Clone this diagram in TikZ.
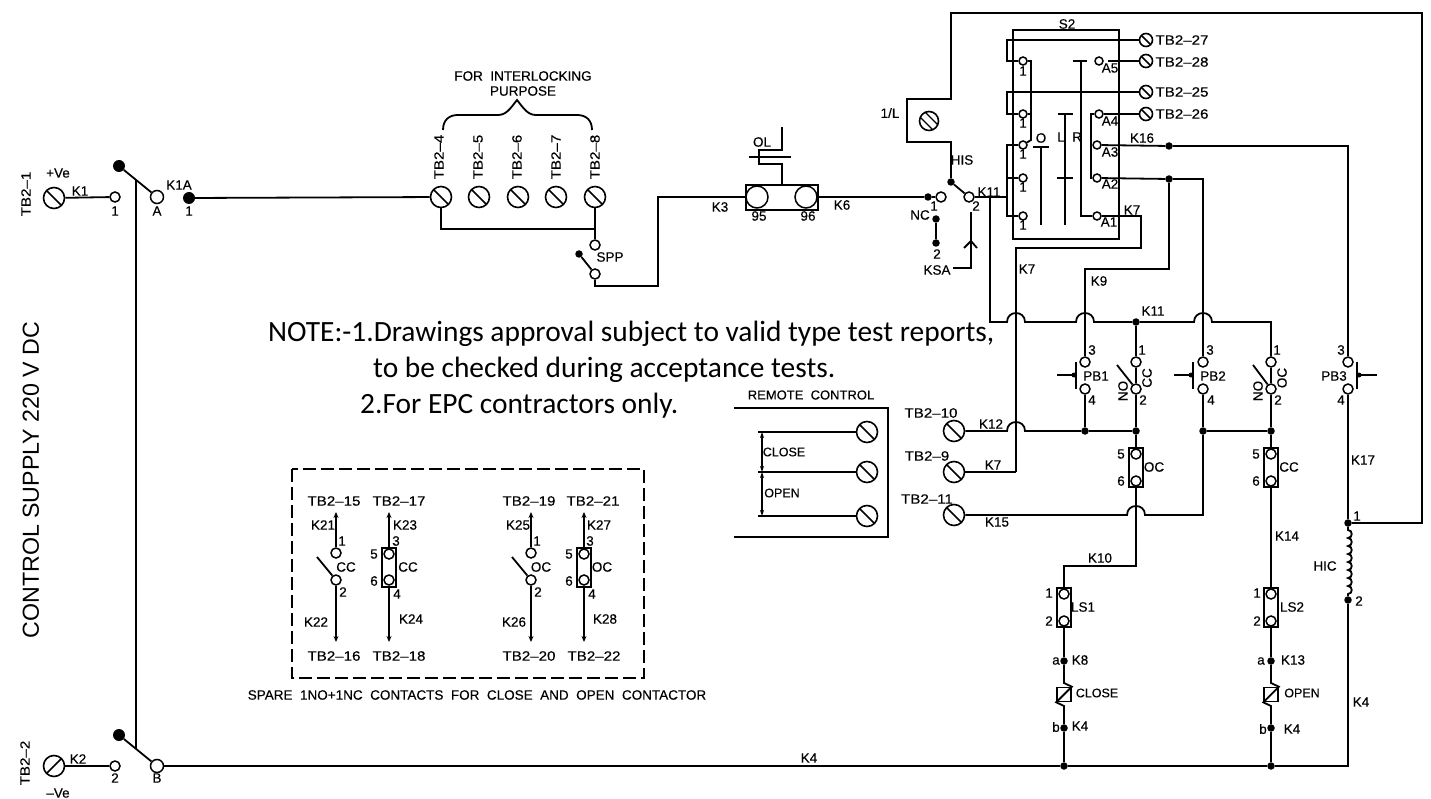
\documentclass[tikz,border=0pt]{standalone}
\usepackage{fontspec}
\setmainfont[FakeBold=0.25]{Liberation Sans}
\newfontfamily\tbfont[FakeStretch=1.12,FakeBold=0.25]{Liberation Sans}
\newfontfamily\plainfont{Liberation Sans}
\newfontfamily\notefont{Carlito}
\usetikzlibrary{arrows.meta}
\newcounter{lc}
\newcommand\lbl[3][]{\stepcounter{lc}\node[lab,#1] (l\thelc) at (#2) {#3};}
\tikzset{
  wire/.style={line width=1.8pt,line join=miter},
  lab/.style={inner sep=0pt,font=\fontsize{13.5}{13.5}\selectfont},
  tb/.style={font=\tbfont\fontsize{13.5}{13.5}\selectfont},
  sml/.style={font=\fontsize{12.5}{12.5}\selectfont},
  note/.style={inner sep=0pt,anchor=base west,font=\notefont\fontsize{29.4}{29.4}\selectfont},
  term/.style={circle,draw,line width=1.5pt,fill=white,inner sep=0pt,minimum size=10pt},
  bigterm/.style={term,minimum size=13pt},
  ovl/.style={term,minimum size=22pt},
  jdot/.style={circle,fill=black,inner sep=0pt,minimum size=7.5pt},
  bigdot/.style={circle,fill=black,inner sep=0pt,minimum size=12pt},
  screw/.style={circle,draw,line width=1.6pt,inner sep=0pt,minimum size=21pt,
    path picture={\draw[line width=1.6pt] (path picture bounding box.north west) -- (path picture bounding box.south east);}},
  screws/.style={screw,minimum size=13pt},
  screwr/.style={circle,draw,line width=1.6pt,inner sep=0pt,minimum size=21pt,
    path picture={\draw[line width=1.6pt] (path picture bounding box.north east) -- (path picture bounding box.south west);}},
  screwd/.style={circle,draw,line width=1.6pt,inner sep=0pt,minimum size=19pt,
    path picture={\draw[line width=1.3pt] ([xshift=-2.5pt,yshift=-2.5pt]path picture bounding box.north west) -- ([xshift=-2.5pt,yshift=-2.5pt]path picture bounding box.south east);
    \draw[line width=1.3pt] ([xshift=2.5pt,yshift=2.5pt]path picture bounding box.north west) -- ([xshift=2.5pt,yshift=2.5pt]path picture bounding box.south east);}},
  cbox/.style={rectangle,draw,line width=1.6pt,inner sep=0pt,minimum width=14pt,minimum height=39pt},
  coilbox/.style={rectangle,draw,line width=1.6pt,inner sep=0pt,minimum width=14pt,minimum height=14pt},
  arr/.style={wire,-{Stealth[length=6pt,width=5pt]}},
  arrb/.style={wire,{Stealth[length=6pt,width=4pt]}-{Stealth[length=6pt,width=4pt]}},
}
\begin{document}
\begin{tikzpicture}[x=1pt,y=-1pt]
\useasboundingbox (0,0) rectangle (1431,799);
\fill[white] (0,0) rectangle (1431,799);

% ---------- left supply ----------
\node[screw] (tb1) at (54,198) {};
\node[term] (t1) at (115,197) {};
\node[bigdot] (da) at (119,166) {};
\node[bigterm] (ca) at (157,197) {};
\node[bigdot] (k1a) at (189,198) {};
\node[screwr] (tb2) at (54,766) {};
\node[term] (t2) at (115,766) {};
\node[bigdot] (db) at (119,735) {};
\node[bigterm] (cb) at (157,766) {};
\coordinate (swa) at (136,180);
\coordinate (swb) at (136,749);
\draw[wire] (tb1) -- (t1);
\draw[wire] (tb2) -- (t2);
\draw[wire] (da) -- (ca);
\draw[wire] (db) -- (cb);
\draw[wire] (swa) -- (swb);
\lbl[tb,rotate=90]{26,194}{TB2–1}
\lbl{58,173}{+Ve}
\lbl{80,191}{K1}
\lbl{115,211}{1}
\lbl{157,211}{A}
\lbl{179,185}{K1A}
\lbl{189,211}{1}
\lbl[tb,rotate=90]{25,763}{TB2–2}
\lbl{78,759}{K2}
\lbl{115,778}{2}
\lbl{157,778}{B}
\lbl{58,793}{–Ve}
\lbl[rotate=90,font=\plainfont\fontsize{23.2}{23.2}\selectfont]{31,480}{CONTROL SUPPLY 220 V DC}

% ---------- interlocking ----------
\node[screw] (s4) at (441,197) {};
\node[screw] (s5) at (479,197) {};
\node[screw] (s6) at (518,197) {};
\node[screw] (s7) at (556,197) {};
\node[screw] (s8) at (595,197) {};
\draw[wire] (k1a) -- (s4);
\lbl[tb,rotate=90]{439,157}{TB2–4}
\lbl[tb,rotate=90]{478,157}{TB2–5}
\lbl[tb,rotate=90]{517,157}{TB2–6}
\lbl[tb,rotate=90]{556,157}{TB2–7}
\lbl[tb,rotate=90]{595,157}{TB2–8}
\lbl{523,76}{FOR\ \ INTERLOCKING}
\lbl{523,91}{PURPOSE}
\draw[wire] (443,130) .. controls (443,120) and (449,115) .. (458,115) -- (498,115) .. controls (506,115) and (510,109) .. (517,100) .. controls (524,109) and (528,115) .. (536,115) -- (577,115) .. controls (586,115) and (592,120) .. (592,130);
\node[term] (sp1) at (595,245) {};
\node[jdot] (sp0) at (579,254) {};
\node[term] (sp2) at (595,274) {};
\draw[wire] (s8) -- (sp1);
\draw[wire] (s4) |- (595,229);
\draw[wire] (sp0) -- (sp2);
\lbl{610,257}{SPP}

% ---------- overload ----------
\node[rectangle,draw,line width=1.6pt,inner sep=0pt,minimum width=72pt,minimum height=25pt] (ol) at (782,197.5) {};
\node[ovl] (c95) at (757,197) {};
\node[ovl] (c96) at (806,197) {};
\coordinate (bend) at (658,286);
\draw[wire] (sp2) |- (bend) |- (c95);
\draw[wire] (782,127) -- (782,150) -- (759,150) -- (759,164) -- (782,164) -- (ol.north);
\draw[wire] (749,157) -- (791,157);
\lbl{762,142}{OL}
\lbl{759,216}{95}
\lbl{808,216}{96}
\lbl{720,207}{K3}
\lbl{842,205}{K6}

% ---------- HIS switch ----------
\node[jdot] (his) at (951,182) {};
\node[term] (h1) at (941,197) {};
\node[jdot] (h1d) at (928,197) {};
\node[term] (h2) at (969,197) {};
\node[jdot] (nc1) at (936,219) {};
\node[jdot] (nc2) at (936,243) {};
\draw[wire] (c96) -- (h1d);
\draw[wire] (h1d) -- (h1);
\draw[wire] (his) -- (h2);
\draw[wire] (nc1) -- (nc2);
\lbl{934,206}{1}
\lbl{976,206}{2}
\lbl{920,215}{NC}
\lbl{937,254}{2}
\lbl{937,270}{KSA}
\lbl{962,160}{HIS}
\lbl{989,192}{K11}
\lbl{890,113}{1/L}
\coordinate (ksa) at (953,268);
\coordinate (ksat) at (971,212);
\draw[wire] (ksa) -| (ksat);
\draw[wire] (964,248) -- (971,241) -- (977,248);
\node[screwd] (sl) at (929,121) {};
\node[jdot] (hic1) at (1348,523) {};
\node[jdot] (hic2) at (1348,600) {};
\draw[wire] (his) -- (951,142) -- (907,142) -- (907,99) -- (951,99) -- (951,13) -- (1422,13) -- (1422,523) -- (hic1);
\draw[wire] (hic1) -- (1348,530)
  .. controls (1353,530) and (1353,538) .. (1348,538)
  .. controls (1353,538) and (1353,546) .. (1348,546)
  .. controls (1353,546) and (1353,554) .. (1348,554)
  .. controls (1353,554) and (1353,562) .. (1348,562)
  .. controls (1353,562) and (1353,570) .. (1348,570)
  .. controls (1353,570) and (1353,578) .. (1348,578)
  .. controls (1353,578) and (1353,586) .. (1348,586)
  .. controls (1353,586) and (1353,594) .. (1348,594) -- (hic2);
\lbl{1325,566}{HIC}
\lbl{1357,516}{1}
\lbl{1359,601}{2}

% ---------- S2 ----------
\node[rectangle,draw,line width=1.6pt,inner sep=0pt,minimum width=106pt,minimum height=209pt] (s2) at (1066,134.5) {};
\lbl{1067,24}{S2}
\node[term,minimum size=8pt] (c1) at (1023,61) {};
\node[term,minimum size=8pt] (c2) at (1023,114) {};
\node[term,minimum size=8pt] (c3) at (1023,145) {};
\node[term,minimum size=8pt] (c4) at (1023,178) {};
\node[term,minimum size=8pt] (c5) at (1023,216) {};
\lbl{1023,71}{1}
\lbl{1023,123}{1}
\lbl{1023,154}{1}
\lbl{1023,187}{1}
\lbl{1023,225}{1}
\node[screws] (t27) at (1146,40) {};
\node[screws] (t28) at (1146,61) {};
\node[screws] (t25) at (1146,92) {};
\node[screws] (t26) at (1146,114) {};
\lbl[tb]{1182,40}{TB2–27}
\lbl[tb]{1182,62}{TB2–28}
\lbl[tb]{1182,92}{TB2–25}
\lbl[tb]{1182,114}{TB2–26}
\draw[wire] (t27) -- (1007,40) -- (1007,61) -- (c1);
\draw[wire] (t25) -- (1007,92) -- (1007,114) -- (c2);
\draw[wire] (c1) -- (1031,61) -- (1031,140) -- (c3);
\draw[wire] (c2) -- (1031,114);
\draw[wire] (c3) -- (1007,145) -- (1007,216) -- (c5);
\draw[wire] (c4) -- (1007,178);
\node[term,minimum size=8pt] (a5) at (1099,61) {};
\node[term,minimum size=8pt] (a4) at (1099,114) {};
\node[term,minimum size=8pt] (a3) at (1097,145) {};
\node[term,minimum size=8pt] (a2) at (1097,178) {};
\node[term,minimum size=8pt] (a1) at (1097,216) {};
\lbl{1110,68}{A5}
\lbl{1110,121}{A4}
\lbl{1110,152}{A3}
\lbl{1110,184}{A2}
\lbl{1109,222}{A1}
\draw[wire] (1108,61) -- (t28);
\draw[wire] (a4) -- (t26);
\draw[wire] (a4) -- (1091,114) -- (1091,178) -- (a2);
\draw[wire] (a1) -- (1081,216) -- (1081,61);
\draw[wire] (1073,61) -- (1087,61);
\draw[wire] (1041,147) -- (1041,225);
\draw[wire] (1033,147) -- (1049,147);
\draw[wire] (1065,114) -- (1065,225);
\draw[wire] (1058,114) -- (1073,114);
\draw[wire] (1057,178) -- (1073,178);
\lbl{1041,138}{O}
\lbl{1061,137}{L}
\lbl{1077,137}{R}
\lbl{1142,138}{K16}
\lbl{1132,210}{K7}
\lbl{1027,269}{K7}
\lbl{1099,281}{K9}

% ---------- push button rail ----------
\node[jdot] (d11) at (1136,322) {};
\node[jdot] (d16) at (1169,146) {};
\node[jdot] (d2) at (1169,179) {};
\node[term] (pb13) at (1085,362) {};
\node[term] (pb14) at (1085,389) {};
\node[term] (cc1) at (1136,362) {};
\node[term] (cc2) at (1136,389) {};
\node[term] (pb23) at (1203,362) {};
\node[term] (pb24) at (1203,389) {};
\node[term] (oc1) at (1271,362) {};
\node[term] (oc2) at (1271,389) {};
\node[term] (pb33) at (1348,362) {};
\node[term] (pb34) at (1348,389) {};
\node[jdot] (d31) at (1085,431) {};
\node[jdot] (d32) at (1136,431) {};
\node[jdot] (d33) at (1203,431) {};
\node[jdot] (d34) at (1271,431) {};
\draw[wire] (h2) -- (1008,197);
\coordinate (kt) at (990,197);
\draw[wire] (kt) -- (990,322) -- (1007,322) .. controls (1007,310) and (1025,310) .. (1025,322) -- (1076,322) .. controls (1076,310) and (1094,310) .. (1094,322) -- (d11);
\draw[wire] (d11) -- (1194,322) .. controls (1194,310) and (1212,310) .. (1212,322) -- (1271,322) -- (oc1);
\draw[wire] (d11) -- (cc1);
\draw[wire] (a3) -- (d16);
\draw[wire] (d16) -| (pb33);
\draw[wire] (a2) -- (d2);
\draw[wire] (d2) -- (1203,179) -- (pb23);
\draw[wire] (d2) -- (1169,269) -- (1085,269) -- (pb13);
\draw[wire] (a1) -- (1141,216) -- (1141,248) -- (1016,248) -- (1016,472);
\draw[wire] (pb14) -- (d31);
\draw[wire] (pb24) -- (d33);
\draw[wire] (pb34) -- (hic1);
\draw[wire] (cc1) -- (cc2);
\draw[wire] (oc1) -- (oc2);
\draw[wire] (cc2) -- (d32);
\draw[wire] (oc2) -- (d34);
\draw[wire] (d33) -- (d34);
\draw[wire] (d31) -- (d32);
\draw[wire] (1117,365) -- (cc2);
\draw[wire] (1253,365) -- (oc2);
% pushbutton bars
\draw[wire] (1076,362) -- (1076,389);
\draw[wire] (1193,362) -- (1193,389);
\draw[wire] (1357,362) -- (1357,389);
\draw[wire] (1057,375) -- (1076,375);
\draw[wire] (1174,375) -- (1193,375);
\draw[wire] (1357,375) -- (1377,375);
\node[jdot,minimum size=5pt] (p1) at (1074,375) {};
\node[jdot,minimum size=5pt] (p2) at (1191,375) {};
\node[jdot,minimum size=5pt] (p3) at (1359,375) {};
\lbl{1153,311}{K11}
\lbl{1092,350}{3}
\lbl{1092,400}{4}
\lbl{1096,376}{PB1}
\lbl{1142,350}{1}
\lbl{1143,400}{2}
\lbl[rotate=90]{1123,391}{NO}
\lbl[rotate=90]{1147,378}{CC}
\lbl{1210,350}{3}
\lbl{1211,400}{4}
\lbl{1213,376}{PB2}
\lbl{1277,350}{1}
\lbl{1278,400}{2}
\lbl[rotate=90]{1258,391}{NO}
\lbl[rotate=90]{1282,378}{OC}
\lbl{1341,350}{3}
\lbl{1341,400}{4}
\lbl{1334,376}{PB3}
\lbl{1363,460}{K17}

% ---------- remote terminals ----------
\node[screw] (t10) at (954,431) {};
\node[screw] (t9) at (954,472) {};
\node[screw] (t11) at (954,515) {};
\draw[wire] (t10) -- (1007,431) .. controls (1007,419) and (1025,419) .. (1025,431) -- (d31);
\draw[wire] (t9) -- (1016,472);
\draw[wire] (t11) -- (1127,515) .. controls (1127,503) and (1145,503) .. (1145,515) -- (1203,515) -- (d33);
\lbl[tb]{931,413}{TB2–10}
\lbl[tb]{927,456}{TB2–9}
\lbl[tb]{927,499}{TB2–11}
\lbl{991,424}{K12}
\lbl{993,465}{K7}
\lbl{997,522}{K15}

% ---------- contactor / limit / coil columns ----------
\node[cbox] (boc) at (1136,467.5) {};
\node[term] (oc5) at (1136,454) {};
\node[term] (oc6) at (1136,481) {};
\node[cbox] (bcc) at (1271,467.5) {};
\node[term] (cc5) at (1271,454) {};
\node[term] (cc6) at (1271,481) {};
\draw[wire] (d32) -- (oc5);
\draw[wire] (d34) -- (cc5);
\lbl{1121,454}{5}
\lbl{1121,481}{6}
\lbl{1154,467}{OC}
\lbl{1256,454}{5}
\lbl{1256,481}{6}
\lbl{1289,467}{CC}
\node[cbox] (bl1) at (1064,607.5) {};
\node[term] (ls11) at (1064,594) {};
\node[term] (ls12) at (1064,621) {};
\node[cbox] (bl2) at (1271,607.5) {};
\node[term] (ls21) at (1271,594) {};
\node[term] (ls22) at (1271,621) {};
\draw[wire] (oc6) -- (1136,566) -- (1064,566) -- (ls11);
\draw[wire] (cc6) -- (ls21);
\node[jdot] (a8) at (1064,661) {};
\node[jdot] (b8) at (1064,728) {};
\node[jdot] (e8) at (1064,766) {};
\node[jdot] (a13) at (1271,661) {};
\node[jdot] (b13) at (1271,728) {};
\node[jdot] (e13) at (1271,766) {};
\node[coilbox] (cl) at (1064,694.5) {};
\node[coilbox] (op) at (1271,694.5) {};
\draw[wire] (ls12) -- (a8);
\draw[wire] (ls22) -- (a13);
\draw[wire] (a8) -- (1064,683) -- (cl.north east) -- (cl.south west) -- (1064,706) -- (b8);
\draw[wire] (a13) -- (1271,683) -- (op.north east) -- (op.south west) -- (1271,706) -- (b13);
\draw[wire] (b8) -- (e8);
\draw[wire] (b13) -- (e13);
\draw[wire] (cb) -- (e8);
\draw[wire] (e8) -- (e13);
\draw[wire] (e13) -| (hic2);
\lbl{1100,558}{K10}
\lbl{1287,536}{K14}
\lbl{1049,593}{1}
\lbl{1049,621}{2}
\lbl{1083,607}{LS1}
\lbl{1257,593}{1}
\lbl{1257,621}{2}
\lbl{1292,607}{LS2}
\lbl{1056,661}{a}
\lbl{1080,660}{K8}
\lbl{1261,661}{a}
\lbl{1293,660}{K13}
\lbl[sml]{1097,693}{CLOSE}
\lbl[sml]{1302,693}{OPEN}
\lbl{1056,727}{b}
\lbl{1080,726}{K4}
\lbl{1263,729}{b}
\lbl{1292,729}{K4}
\lbl{809,758}{K4}
\lbl{1361,702}{K4}

% ---------- remote control box ----------
\draw[wire] (734,408) -- (888,408) -- (888,537) -- (734,537);
\lbl[font=\fontsize{13}{13}\selectfont]{811,395}{REMOTE\ \ CONTROL}
\node[screw] (r1) at (867,432) {};
\node[screw] (r2) at (867,472) {};
\node[screw] (r3) at (867,516) {};
\coordinate (r1l) at (758,432);
\coordinate (r2l) at (758,472);
\coordinate (r3l) at (758,516);
\draw[wire] (r1l) -- (r1);
\draw[wire] (r2l) -- (r2);
\draw[wire] (r3l) -- (r3);
\draw[arrb] (762,432) -- (762,472);
\draw[arrb] (762,472) -- (762,516);
\lbl[sml]{784,452}{CLOSE}
\lbl[sml]{782,493}{OPEN}

% ---------- note ----------
\node[note] (n1) at (268,341.5) {NOTE:-1.Drawings approval subject to valid type test reports,};
\node[note] (n2) at (373,377.5) {to be checked during acceptance tests.};
\node[note] (n3) at (360,413.5) {2.For EPC contractors only.};

% ---------- spare contacts ----------
\draw[line width=1.6pt,dash pattern=on 13pt off 5pt] (292,469) rectangle (644,678);
\lbl{477,695}{SPARE\ \ 1NO+1NC\ \ CONTACTS\ \ FOR\ \ CLOSE\ \ AND\ \ OPEN\ \ CONTACTOR}
% column 1
\node[term] (a1t) at (336,553) {};
\node[term] (a1b) at (336,580) {};
\coordinate (a1u) at (336,512);
\coordinate (a1d) at (336,642);
\coordinate (a1k) at (317,557);
\draw[arr] (a1t) -- (a1u);
\draw[arr] (a1b) -- (a1d);
\draw[wire] (a1k) -- (a1b);
% column 2
\node[cbox] (b2box) at (389,567.5) {};
\node[term] (b2t) at (389,554) {};
\node[term] (b2b) at (389,580) {};
\coordinate (b2u) at (389,512);
\coordinate (b2d) at (389,642);
\draw[arr] (b2t) -- (b2u);
\draw[arr] (b2b) -- (b2d);
% column 3
\node[term] (c3t) at (531,553) {};
\node[term] (c3b) at (531,580) {};
\coordinate (c3u) at (531,512);
\coordinate (c3d) at (531,642);
\coordinate (c3k) at (512,557);
\draw[arr] (c3t) -- (c3u);
\draw[arr] (c3b) -- (c3d);
\draw[wire] (c3k) -- (c3b);
% column 4
\node[cbox] (d4box) at (584,567.5) {};
\node[term] (d4t) at (584,554) {};
\node[term] (d4b) at (584,580) {};
\coordinate (d4u) at (584,512);
\coordinate (d4d) at (584,642);
\draw[arr] (d4t) -- (d4u);
\draw[arr] (d4b) -- (d4d);
\lbl[tb]{334,501}{TB2–15}
\lbl[tb]{399,501}{TB2–17}
\lbl[tb]{529,501}{TB2–19}
\lbl[tb]{593,501}{TB2–21}
\lbl[tb]{334,656}{TB2–16}
\lbl[tb]{399,656}{TB2–18}
\lbl[tb]{529,656}{TB2–20}
\lbl[tb]{594,656}{TB2–22}
\lbl{323,525}{K21}
\lbl{342,541}{1}
\lbl{346,567}{CC}
\lbl{343,592}{2}
\lbl{316,622}{K22}
\lbl{405,525}{K23}
\lbl{396,541}{3}
\lbl{374,554}{5}
\lbl{374,581}{6}
\lbl{408,567}{CC}
\lbl{397,594}{4}
\lbl{411,619}{K24}
\lbl{518,525}{K25}
\lbl{537,541}{1}
\lbl{541,567}{OC}
\lbl{538,592}{2}
\lbl{514,622}{K26}
\lbl{599,525}{K27}
\lbl{590,541}{3}
\lbl{569,554}{5}
\lbl{569,581}{6}
\lbl{602,567}{OC}
\lbl{592,594}{4}
\lbl{605,619}{K28}
\end{tikzpicture}
\end{document}
